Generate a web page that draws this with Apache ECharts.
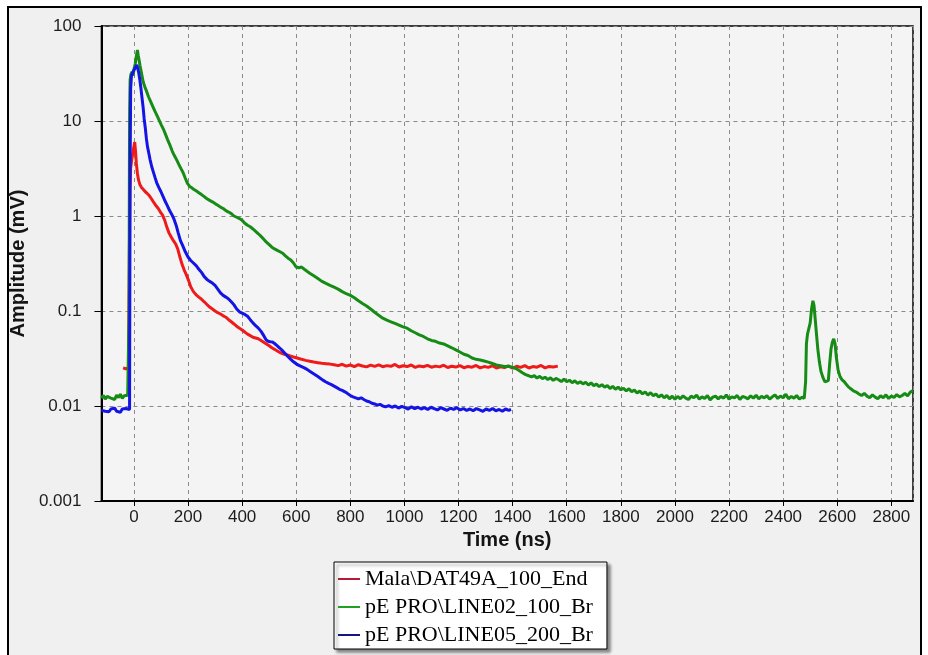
<!DOCTYPE html>
<html>
<head>
<meta charset="utf-8">
<title>Amplitude vs Time</title>
<script src="https://cdn.jsdelivr.net/npm/echarts@6/dist/echarts.min.js"></script>
<style>
  html, body { margin: 0; padding: 0; background: #ffffff; }
  #chart { width: 928px; height: 655px; }
</style>
</head>
<body>
<div id="chart"></div>
<script>
// Series names as shown in the legend
const seriesNames = ['Mala\\DAT49A_100_End', 'pE PRO\\LINE02_100_Br', 'pE PRO\\LINE05_200_Br'];

// Axis ranges and labels
const timeRange = [-120, 2880];
const amplitudeRange = [0.001, 100];
const amplitudeTicks = ['100', '10', '1', '0.1', '0.01', '0.001'];

// Trace: Mala\DAT49A_100_End  [time (ns), amplitude (mV)]
const redTrace = [
  [-40,0.0252],[-35,0.0258],[-30,0.0247],[-25,0.0255],[-20,0.025],[-17,0.3],[-15,1.8],[-12,3.2],[-8,3.9],[-4,4.6],
  [0,5.4],[3,6.0],[6,4.8],[9,3.6],[13,2.8],[17,2.4],[22,2.15],[28,2.0],[35,1.9],[42,1.8],[50,1.72],[58,1.62],
  [66,1.5],[74,1.38],[82,1.28],[90,1.2],[98,1.1],[106,1.02],[114,0.9],[122,0.76],[130,0.66],[138,0.6],[146,0.55],
  [154,0.51],[162,0.45],[170,0.37],[178,0.31],[186,0.27],[194,0.24],[202,0.21],[210,0.18],[220,0.16],[230,0.148],
  [240,0.14],[250,0.133],[260,0.125],[270,0.117],[280,0.11],[290,0.105],[300,0.1],[310,0.096],[320,0.093],
  [330,0.089],[340,0.086],[350,0.081],[360,0.077],[370,0.073],[380,0.069],[390,0.066],[400,0.063],[410,0.06],
  [420,0.057],[430,0.055],[440,0.053],[450,0.052],[460,0.051],[470,0.049],[480,0.047],[490,0.045],[500,0.043],
  [510,0.041],[520,0.0395],[530,0.038],[540,0.0365],[550,0.0355],[560,0.0348],[570,0.0342],[580,0.0335],
  [590,0.0328],[600,0.0322],[610,0.0316],[620,0.031],[635,0.0302],[650,0.0296],[665,0.029],[680,0.0286],
  [695,0.0282],[710,0.0279],[725,0.0276],[740,0.0272],[755,0.0266],[770,0.0275],[785,0.0263],[800,0.027],
  [815,0.026],[830,0.0272],[845,0.0264],[860,0.0258],[875,0.0269],[890,0.0261],[905,0.0271],[920,0.0259],
  [935,0.0266],[950,0.0262],[965,0.0274],[980,0.0257],[995,0.0265],[1010,0.026],[1025,0.027],[1040,0.0255],
  [1055,0.0264],[1070,0.0259],[1085,0.0268],[1100,0.0256],[1115,0.0263],[1130,0.0258],[1145,0.0269],
  [1160,0.0254],[1175,0.0262],[1190,0.0257],[1205,0.0266],[1220,0.0253],[1235,0.0261],[1250,0.0256],
  [1265,0.0267],[1280,0.0252],[1295,0.026],[1310,0.0255],[1325,0.0265],[1340,0.0251],[1355,0.0259],
  [1370,0.0254],[1385,0.0264],[1400,0.025],[1415,0.0262],[1430,0.0255],[1445,0.0266],[1460,0.0251],
  [1475,0.026],[1490,0.0256],[1505,0.0267],[1520,0.0252],[1535,0.0261],[1550,0.0257],[1567,0.0263]
];

// Trace: pE PRO\LINE02_100_Br
const greenTrace = [
  [-120,0.0121],[-113,0.0129],[-106,0.0118],[-99,0.0126],[-92,0.0132],[-85,0.0121],[-78,0.0127],[-71,0.0117],
  [-64,0.013],[-57,0.0123],[-50,0.0133],[-43,0.012],[-36,0.0128],[-29,0.0122],[-23,0.013],[-19,0.0126],
  [-18,0.09],[-17,1.2],[-16,12],[-14,27],[-11,31],[-7,33],[-3,30],[1,36],[5,40],[8,46],[11,52],[13,56],
  [16,49],[19,44],[23,38],[28,32],[34,26],[40,23],[47,20.5],[54,18],[62,16],[70,14.2],[78,12.6],[86,11.3],
  [94,10.1],[102,9.0],[110,8.1],[118,7.1],[126,6.2],[134,5.5],[142,4.8],[150,4.3],[158,3.9],[166,3.5],
  [174,3.15],[182,2.85],[190,2.5],[198,2.2],[206,2.05],[214,1.98],[222,1.9],[230,1.84],[240,1.76],[250,1.68],
  [260,1.6],[270,1.52],[280,1.46],[290,1.41],[300,1.35],[310,1.3],[320,1.24],[330,1.2],[340,1.14],[350,1.1],
  [360,1.06],[370,1.0],[380,0.97],[390,0.94],[400,0.9],[410,0.84],[420,0.8],[430,0.77],[440,0.73],[450,0.69],
  [460,0.65],[470,0.61],[480,0.57],[490,0.53],[500,0.5],[510,0.47],[520,0.45],[530,0.435],[540,0.42],
  [550,0.405],[560,0.38],[570,0.36],[580,0.345],[590,0.32],[600,0.29],[610,0.285],[620,0.29],[630,0.275],
  [640,0.262],[650,0.25],[665,0.235],[680,0.22],[695,0.205],[710,0.195],[725,0.186],[740,0.178],[755,0.17],
  [770,0.16],[785,0.152],[800,0.146],[815,0.138],[830,0.128],[845,0.12],[860,0.113],[875,0.105],[890,0.097],
  [905,0.09],[920,0.084],[935,0.08],[950,0.077],[965,0.074],[980,0.071],[995,0.068],[1010,0.066],[1025,0.062],
  [1040,0.059],[1055,0.056],[1070,0.054],[1085,0.051],[1100,0.049],[1115,0.048],[1130,0.046],[1145,0.045],
  [1160,0.043],[1175,0.041],[1190,0.039],[1205,0.037],[1220,0.035],[1235,0.034],[1250,0.032],[1265,0.031],
  [1280,0.0305],[1295,0.0298],[1310,0.029],[1325,0.028],[1340,0.027],[1355,0.0265],[1370,0.026],
  [1385,0.0262],[1400,0.0255],[1412,0.0248],[1424,0.0236],[1436,0.0224],[1448,0.0214],[1460,0.0208],
  [1470,0.0203],[1480,0.0209],[1490,0.0197],[1500,0.0205],[1510,0.0194],[1520,0.0201],[1530,0.019],
  [1540,0.0198],[1550,0.0186],[1560,0.0195],[1570,0.0189],[1580,0.0181],[1590,0.0192],[1600,0.018],
  [1610,0.0187],[1620,0.0176],[1630,0.0184],[1640,0.0173],[1650,0.018],[1660,0.0171],[1670,0.0178],
  [1680,0.0166],[1690,0.0175],[1700,0.0164],[1710,0.017],[1720,0.016],[1730,0.0168],[1740,0.0158],
  [1750,0.0164],[1760,0.0153],[1770,0.0161],[1780,0.015],[1790,0.0158],[1800,0.0148],[1810,0.0154],
  [1820,0.0144],[1830,0.0152],[1840,0.0141],[1850,0.0147],[1860,0.0137],[1870,0.0144],[1880,0.0134],
  [1890,0.0141],[1900,0.013],[1910,0.0138],[1920,0.0128],[1930,0.0134],[1940,0.0124],[1950,0.0131],
  [1960,0.0122],[1970,0.0129],[1980,0.0119],[1990,0.0127],[2000,0.0118],[2010,0.0126],[2020,0.0119],
  [2030,0.0128],[2040,0.0121],[2050,0.0117],[2060,0.0127],[2070,0.0122],[2080,0.013],[2090,0.0118],
  [2100,0.0125],[2110,0.012],[2120,0.0129],[2130,0.0116],[2140,0.0124],[2150,0.0127],[2160,0.0119],
  [2170,0.0126],[2180,0.0121],[2190,0.0131],[2200,0.0118],[2210,0.0125],[2220,0.0122],[2230,0.0129],
  [2240,0.0117],[2250,0.0126],[2260,0.0123],[2270,0.0119],[2280,0.0128],[2290,0.0121],[2300,0.013],
  [2310,0.0119],[2320,0.0126],[2330,0.0122],[2340,0.0128],[2350,0.0118],[2360,0.0125],[2370,0.0131],
  [2380,0.012],[2390,0.0127],[2400,0.0122],[2410,0.0133],[2420,0.0119],[2430,0.0126],[2440,0.0121],
  [2450,0.0129],[2460,0.0118],[2470,0.0124],[2478,0.012],
  [2483,0.018],[2486,0.045],[2490,0.057],[2495,0.058],[2500,0.075],[2505,0.105],[2510,0.128],[2514,0.115],
  [2518,0.085],[2523,0.058],[2528,0.04],[2534,0.029],[2540,0.023],[2547,0.02],[2554,0.018],[2561,0.0172],
  [2567,0.0185],[2572,0.028],[2577,0.04],[2582,0.047],[2587,0.051],[2592,0.045],[2597,0.032],[2603,0.024],
  [2610,0.0205],[2618,0.0188],[2626,0.018],[2634,0.0168],[2642,0.0158],[2650,0.0152],[2660,0.0144],
  [2670,0.014],[2680,0.0134],[2690,0.0129],[2700,0.0136],[2710,0.0127],[2720,0.0122],[2730,0.0131],
  [2740,0.0124],[2750,0.0119],[2760,0.0128],[2770,0.0122],[2780,0.0131],[2790,0.012],[2800,0.0127],
  [2810,0.0123],[2820,0.0132],[2830,0.0125],[2840,0.0129],[2850,0.0136],[2860,0.0128],[2870,0.014],[2880,0.0145]
];

// Trace: pE PRO\LINE05_200_Br
const blueTrace = [
  [-120,0.009],[-113,0.0094],[-106,0.0088],[-99,0.0092],[-92,0.0087],[-85,0.0093],[-78,0.0089],[-71,0.0095],
  [-64,0.0088],[-57,0.0091],[-50,0.0086],[-43,0.0093],[-36,0.0089],[-29,0.0094],[-22,0.009],[-16,0.0092],
  [-15,0.2],[-14,3],[-12,22],[-9,30],[-5,31],[-1,34],[3,33],[7,37],[11,39],[14,36],[18,32],[22,27],[26,22],
  [30,17.5],[34,14],[38,10.5],[42,8.5],[46,6.6],[50,5.4],[55,4.6],[60,3.9],[66,3.3],[72,2.9],[78,2.55],
  [84,2.25],[92,2.0],[100,1.8],[108,1.6],[116,1.42],[124,1.28],[132,1.14],[140,1.04],[148,0.93],[156,0.8],
  [164,0.66],[172,0.55],[180,0.49],[190,0.42],[200,0.37],[210,0.34],[220,0.32],[230,0.3],[240,0.275],
  [250,0.255],[260,0.23],[270,0.215],[280,0.205],[290,0.197],[300,0.186],[310,0.17],[320,0.155],[330,0.146],
  [340,0.14],[350,0.134],[360,0.125],[370,0.116],[380,0.105],[390,0.098],[400,0.095],[410,0.092],[420,0.088],
  [430,0.081],[440,0.075],[450,0.07],[460,0.066],[470,0.061],[480,0.055],[488,0.05],[496,0.048],[504,0.0475],
  [512,0.0472],[520,0.0455],[530,0.043],[540,0.0405],[550,0.038],[560,0.0355],[570,0.033],[580,0.031],
  [590,0.0292],[600,0.0278],[610,0.0268],[620,0.026],[630,0.0252],[640,0.0243],[650,0.0232],[660,0.0222],
  [670,0.0213],[680,0.0204],[690,0.0195],[700,0.0186],[710,0.0179],[720,0.0173],[730,0.0168],[740,0.0162],
  [750,0.0156],[760,0.015],[770,0.0146],[780,0.0141],[790,0.0135],[800,0.0129],[810,0.0125],[820,0.0122],
  [830,0.0119],[840,0.0122],[850,0.0117],[860,0.0113],[870,0.0111],[880,0.0107],[890,0.0105],[900,0.0102],
  [910,0.0104],[920,0.01],[930,0.0098],[942,0.0101],[954,0.0097],[966,0.01],[978,0.0095],[990,0.0099],
  [1002,0.0096],[1014,0.0093],[1026,0.0098],[1038,0.0094],[1050,0.0097],[1062,0.0093],[1074,0.0096],
  [1086,0.0092],[1098,0.0097],[1110,0.0094],[1122,0.0091],[1134,0.0096],[1146,0.0093],[1158,0.009],
  [1170,0.0095],[1182,0.0092],[1194,0.0096],[1206,0.0091],[1218,0.0094],[1230,0.009],[1242,0.0093],
  [1254,0.0089],[1266,0.0094],[1278,0.0091],[1290,0.0088],[1302,0.0093],[1314,0.009],[1326,0.0094],
  [1338,0.0089],[1350,0.0092],[1362,0.0088],[1374,0.0093],[1386,0.009],[1394,0.0092]
];

const traceColors = ['#ef1b1b', '#168c16', '#1414e4'];
const legendColors = ['#b31c34', '#22a022', '#161680'];

const chart = echarts.init(document.getElementById('chart'), null, { renderer: 'canvas' });

const tickFont = { fontFamily: 'Liberation Sans, Arial, sans-serif', fontSize: 17, color: '#1c1c1c' };
const nameFont = { fontFamily: 'Liberation Sans, Arial, sans-serif', fontSize: 20, fontWeight: 'bold', color: '#141414' };
const dashed = { type: [4, 4], color: '#8a8a8a', width: 1 };

chart.setOption({
  animation: false,
  backgroundColor: '#ffffff',
  graphic: [{
    type: 'rect',
    z: -10,
    silent: true,
    shape: { x: 8, y: 7, width: 913, height: 700 },
    style: { fill: '#f0f0f0', stroke: '#000000', lineWidth: 2 }
  }],
  grid: {
    left: 99, right: 15, top: 26, bottom: 154,
    show: true,
    backgroundColor: '#f4f4f4',
    borderColor: '#000000',
    borderWidth: 1.5
  },
  xAxis: {
    type: 'value',
    min: timeRange[0],
    max: timeRange[1],
    minInterval: 200,
    maxInterval: 200,
    splitNumber: 15,
    name: 'Time (ns)',
    nameLocation: 'middle',
    nameGap: 27,
    nameTextStyle: nameFont,
    axisLine: { show: true, onZero: false, lineStyle: { color: '#000', width: 2 } },
    axisTick: { show: true, length: 5, lineStyle: { color: '#000', width: 1 } },
    axisLabel: Object.assign({
      margin: 8, showMinLabel: false, showMaxLabel: false,
      formatter: function (v) { return String(v); }
    }, tickFont),
    splitLine: { show: true, lineStyle: dashed }
  },
  yAxis: {
    type: 'log',
    logBase: 10,
    min: amplitudeRange[0],
    max: amplitudeRange[1],
    name: 'Amplitude (mV)',
    nameLocation: 'middle',
    nameGap: 57,
    nameTextStyle: nameFont,
    axisLine: { show: true, onZero: false, lineStyle: { color: '#000', width: 2 } },
    axisTick: { show: true, length: 7, lineStyle: { color: '#000', width: 1 } },
    axisLabel: Object.assign({
      margin: 20,
      formatter: function (v) {
        const s = String(Number(v.toPrecision(3)));
        return amplitudeTicks.indexOf(s) >= 0 ? s : '';
      }
    }, tickFont),
    splitLine: { show: true, lineStyle: dashed }
  },
  legend: {
    orient: 'vertical',
    left: 334,
    top: 562,
    icon: 'rect',
    itemWidth: 22,
    itemHeight: 2,
    itemGap: 4,
    padding: [5, 14, 2, 4],
    backgroundColor: '#ffffff',
    borderColor: '#000000',
    borderWidth: 1,
    shadowColor: 'rgba(0,0,0,0.45)',
    shadowBlur: 3,
    shadowOffsetX: 3,
    shadowOffsetY: 3,
    textStyle: { fontFamily: 'Liberation Serif, Times New Roman, serif', fontSize: 22, color: '#000', lineHeight: 24 },
    data: seriesNames.map((n, i) => ({ name: n, itemStyle: { color: legendColors[i] } }))
  },
  series: [
    { name: seriesNames[0], data: redTrace, color: traceColors[0] },
    { name: seriesNames[1], data: greenTrace, color: traceColors[1] },
    { name: seriesNames[2], data: blueTrace, color: traceColors[2] }
  ].map(s => ({
    type: 'line',
    name: s.name,
    data: s.data,
    showSymbol: false,
    symbol: 'none',
    smooth: false,
    color: s.color,
    lineStyle: { color: s.color, width: 3 },
    emphasis: { disabled: true }
  }))
});
</script>
</body>
</html>
